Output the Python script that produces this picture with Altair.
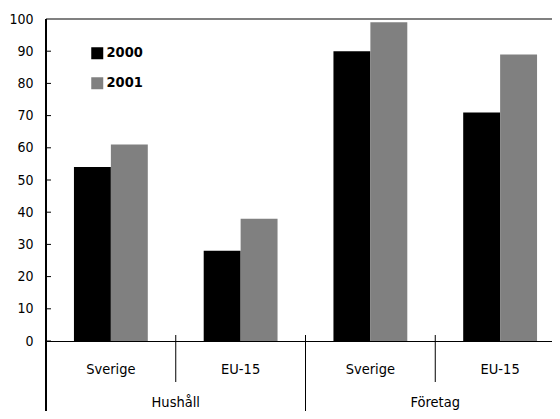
import altair as alt
import pandas as pd

keys = ["Hushåll|Sverige", "Hushåll|EU-15", "Företag|Sverige", "Företag|EU-15"]
groups = ["Hushåll", "Hushåll", "Företag", "Företag"]
subs = ["Sverige", "EU-15", "Sverige", "EU-15"]
years = ["2000", "2001"]
v2000 = [54, 28, 90, 71]
v2001 = [61, 38, 99, 89]
y_ticks = [0, 10, 20, 30, 40, 50, 60, 70, 80, 90, 100]

FONT = "DejaVu Sans Condensed, sans-serif"
W, H = 519, 322

rows = []
for k, a, b in zip(keys, v2000, v2001):
    rows.append({"key": k, "year": "2000", "value": a})
    rows.append({"key": k, "year": "2001", "value": b})
bars_df = pd.DataFrame(rows)
cat_df = pd.DataFrame({"key": keys, "sub": subs})
short_div_df = pd.DataFrame({"key": [keys[1], keys[3]]})
long_div_df = pd.DataFrame({"key": [keys[2]]})
group_df = pd.DataFrame({"key": [keys[1], keys[3]], "group": [groups[0], groups[2]]})
tick_df = pd.DataFrame({"v": y_ticks})

xscale = alt.Scale(domain=keys, paddingInner=0, paddingOuter=0, round=False)
yscale = alt.Scale(domain=[0, 100], nice=False)
yaxis = alt.Axis(values=y_ticks, title=None, grid=False, ticks=False, tickSize=0,
                 labelPadding=13, labelFontSize=14, labelColor="black",
                 labelFont=FONT, domainColor="black")

bars = alt.Chart(bars_df).mark_bar().encode(
    x=alt.X("key:N", scale=xscale, sort=keys,
            axis=alt.Axis(labels=False, ticks=False, title=None, domainColor="black")),
    xOffset=alt.XOffset("year:N", scale=alt.Scale(paddingInner=0, paddingOuter=0.757)),
    y=alt.Y("value:Q", scale=yscale, axis=yaxis),
    color=alt.Color("year:N", scale=alt.Scale(domain=years, range=["#000000", "#808080"]),
                    legend=alt.Legend(orient="none", legendX=44, legendY=27, title=None,
                                      symbolType="square", symbolSize=144, symbolStrokeWidth=0,
                                      labelFont=FONT, labelFontSize=14.5, labelFontWeight="bold",
                                      labelColor="black", rowPadding=15, padding=0, labelOffset=2)),
)

ticks = alt.Chart(tick_df).mark_rule(color="black").encode(
    y=alt.Y("v:Q", scale=yscale, axis=yaxis),
    x=alt.value(0), x2=alt.value(5),
)

top_line = alt.Chart(tick_df).mark_rule(color="#808080", strokeWidth=2).encode(
    x=alt.value(0), x2=alt.value(W), y=alt.value(0),
)

left_ext = alt.Chart(tick_df).mark_rule(color="black").encode(
    x=alt.value(0), y=alt.value(0), y2=alt.value(H + 100),
)

short_div = alt.Chart(short_div_df).mark_rule(color="black").encode(
    x=alt.X("key:N", scale=xscale, sort=keys, bandPosition=0),
    y=alt.value(H - 6), y2=alt.value(H + 41),
)

long_div = alt.Chart(long_div_df).mark_rule(color="black").encode(
    x=alt.X("key:N", scale=xscale, sort=keys, bandPosition=0),
    y=alt.value(H - 6), y2=alt.value(H + 100),
)

cat_text = alt.Chart(cat_df).mark_text(font=FONT, fontSize=14.5, color="black",
                                       baseline="alphabetic").encode(
    x=alt.X("key:N", scale=xscale, sort=keys),
    y=alt.value(H + 33),
    text="sub:N",
)

group_text = alt.Chart(group_df).mark_text(font=FONT, fontSize=14.5, color="black",
                                           baseline="alphabetic").encode(
    x=alt.X("key:N", scale=xscale, sort=keys, bandPosition=0),
    y=alt.value(H + 66),
    text="group:N",
)

chart = alt.layer(
    bars, ticks, top_line, left_ext, short_div, long_div, cat_text, group_text
).properties(
    width=W, height=H,
    padding={"left": 38, "top": 11, "right": -13, "bottom": 70},
    autosize=alt.AutoSizeParams(type="none"),
).configure_view(stroke=None).configure(font=FONT)

chart.save("out.html", embed_options={"renderer": "svg", "actions": False})
